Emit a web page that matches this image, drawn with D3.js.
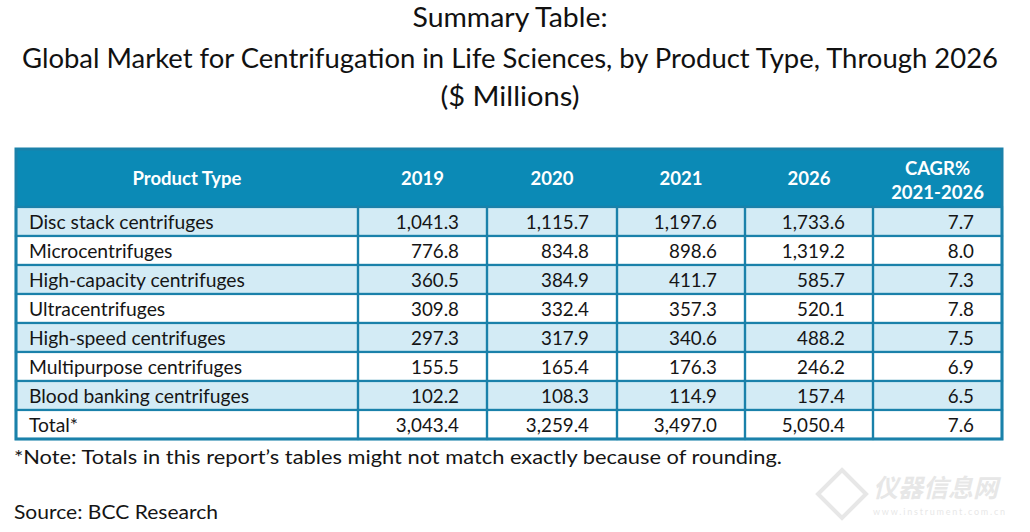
<!DOCTYPE html>
<html><head><meta charset="utf-8">
<script src="https://cdn.jsdelivr.net/npm/d3@7"></script>
<style>body{margin:0;background:#fff}svg{display:block}</style>
</head><body><svg id="c" width="1030" height="532"></svg>
<script>
const titleLines = ["Summary Table:", "Global Market for Centrifugation in Life Sciences, by Product Type, Through 2026", "($ Millions)"];
const headers = ["Product Type", "2019", "2020", "2021", "2026", "CAGR%\n2021-2026"];
const categories = ["Disc stack centrifuges", "Microcentrifuges", "High-capacity centrifuges", "Ultracentrifuges", "High-speed centrifuges", "Multipurpose centrifuges", "Blood banking centrifuges", "Total*"];
const v2019 = ["1,041.3", "776.8", "360.5", "309.8", "297.3", "155.5", "102.2", "3,043.4"];
const v2020 = ["1,115.7", "834.8", "384.9", "332.4", "317.9", "165.4", "108.3", "3,259.4"];
const v2021 = ["1,197.6", "898.6", "411.7", "357.3", "340.6", "176.3", "114.9", "3,497.0"];
const v2026 = ["1,733.6", "1,319.2", "585.7", "520.1", "488.2", "246.2", "157.4", "5,050.4"];
const cagr = ["7.7", "8.0", "7.3", "7.8", "7.5", "6.9", "6.5", "7.6"];
const noteText = "*Note: Totals in this report\u2019s tables might not match exactly because of rounding.";
const sourceText = "Source: BCC Research";

const svg = d3.select("#c");
const FONT = "Lato, 'Open Sans', sans-serif";
const border = "#1a81aa", headFill = "#0b8ab6", lightFill = "#d3ebf5", ink = "#151515";

// title
const titleY = [27, 68, 106];
const titleW = [195, 976, 139];
svg.selectAll("text.title").data(titleLines).join("text")
  .attr("class","title").attr("x", 510).attr("y", (d,i)=>titleY[i])
  .attr("text-anchor","middle").attr("font-family",FONT).attr("font-size",26)
  .attr("fill","#111").attr("textLength",(d,i)=>titleW[i]).attr("lengthAdjust","spacingAndGlyphs")
  .text(d=>d);

// table geometry via scales
const colEdges = [16, 358, 487, 617, 745, 873, 1002];
const x = i => colEdges[i];
const headTop = 149, headBot = 207, rowH = 29;
const y = d3.scaleBand().domain(d3.range(categories.length)).range([headBot, headBot + rowH*categories.length]).padding(0);

const g = svg.append("g");
// header
g.append("rect").attr("x",x(0)).attr("y",headTop).attr("width",x(6)-x(0)).attr("height",headBot-headTop).attr("fill",headFill);
headers.forEach((h,i)=>{
  const lines = h.split("\n");
  const cx = (x(i)+x(i+1))/2;
  const t = g.append("text").attr("text-anchor","middle").attr("font-family",FONT).attr("font-weight","bold")
    .attr("font-size",18.5).attr("fill","#fff");
  if (lines.length===1) t.append("tspan").attr("x",cx).attr("y",(headTop+headBot)/2+7).text(lines[0]);
  else lines.forEach((l,j)=>t.append("tspan").attr("x",cx).attr("y",175+j*24).text(l));
});

// rows
const cols = [categories, v2019, v2020, v2021, v2026, cagr];
const rows = g.selectAll("g.row").data(categories).join("g").attr("class","row")
  .attr("transform",(d,i)=>`translate(0,${y(i)})`);
rows.append("rect").attr("x",x(0)).attr("y",0).attr("width",x(6)-x(0)).attr("height",rowH)
  .attr("fill",(d,i)=>i%2===0 && i<7 ? lightFill : "#fff");
cols.forEach((arr,ci)=>{
  rows.append("rect").attr("x",x(ci)).attr("y",0).attr("width",x(ci+1)-x(ci)).attr("height",rowH)
    .attr("fill","none").attr("stroke",border).attr("stroke-width",2.2);
  rows.append("text")
    .attr("x", ci===0 ? x(0)+13 : x(ci+1)-28)
    .attr("y", rowH/2+7)
    .attr("text-anchor", ci===0 ? "start" : "end")
    .attr("font-family",FONT).attr("font-size", ci===0 ? 19.3 : 18.8).attr("fill",ink)
    .text((d,i)=>arr[i]);
});
// outer border
g.append("rect").attr("x",x(0)).attr("y",headTop).attr("width",x(6)-x(0)).attr("height",y.range()[1]-headTop)
  .attr("fill","none").attr("stroke",border).attr("stroke-width",3);

// note & source
svg.append("text").attr("x",14).attr("y",464).attr("font-family",FONT).attr("font-size",19.5).attr("fill",ink)
  .attr("textLength",768).attr("lengthAdjust","spacingAndGlyphs").text(noteText);
svg.append("text").attr("x",14).attr("y",519).attr("font-family",FONT).attr("font-size",19.5).attr("fill",ink)
  .attr("textLength",204).attr("lengthAdjust","spacingAndGlyphs").text(sourceText);

// watermark
const wm = svg.append("g").attr("opacity",0.35);
wm.append("path").attr("d","M842,470 L866,494 L842,518 L818,494 Z").attr("fill","none").attr("stroke","#bbb").attr("stroke-width",4);
wm.append("text").attr("x",873).attr("y",497).attr("font-family","'Noto Sans CJK SC'").attr("font-weight","bold")
  .attr("font-size",25).attr("fill","#bbb").attr("font-style","italic").text("仪器信息网");
wm.append("text").attr("x",873).attr("y",515).attr("font-family",FONT).attr("font-size",9).attr("fill","#bbb")
  .attr("textLength",132).text("www.instrument.com.cn");
</script></body></html>
